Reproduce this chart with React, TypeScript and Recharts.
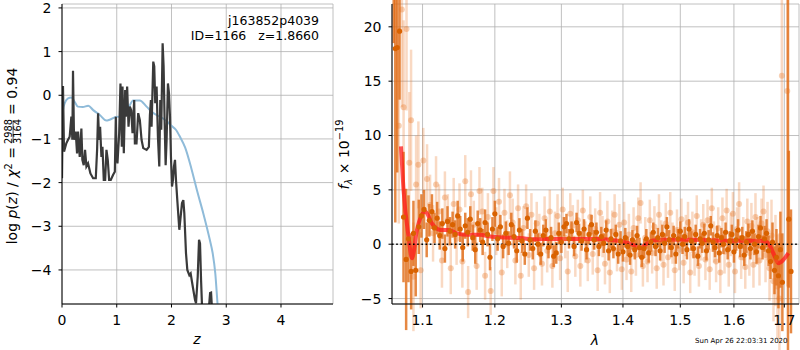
// Two panels: redshift probability p(z) on the left, grism spectrum with
// error bars and the best-fit model on the right.

import {
  LineChart,
  ComposedChart,
  Line,
  Scatter,
  ErrorBar,
  XAxis,
  YAxis,
  CartesianGrid,
  ReferenceLine,
} from 'recharts'

const FONT = '"DejaVu Sans", sans-serif'
const GRID = '#b0b0b0'

// ---- left panel: log p(z) ----
const pzZ = [
  0, 0.018, 0.037, 0.079, 0.11, 0.14, 0.171, 0.189, 0.201, 0.22,
  0.25, 0.275, 0.293, 0.324, 0.354, 0.372, 0.397, 0.421, 0.446, 0.476,
  0.519, 0.568, 0.617, 0.641, 0.659, 0.678, 0.696, 0.72, 0.739, 0.763,
  0.788, 0.812, 0.836, 0.861, 0.891, 0.934, 0.965, 0.983, 0.995, 1.013,
  1.044, 1.068, 1.093, 1.105, 1.129, 1.154, 1.166, 1.19, 1.215, 1.239,
  1.264, 1.288, 1.319, 1.331, 1.361, 1.392, 1.422, 1.453, 1.484, 1.545,
  1.587, 1.606, 1.624, 1.636, 1.667, 1.685, 1.703, 1.728, 1.752, 1.777,
  1.795, 1.813, 1.838, 1.856, 1.874, 1.893, 1.911, 1.935, 1.954, 1.972,
  1.99, 2.009, 2.027, 2.045, 2.064, 2.082, 2.106, 2.143, 2.161, 2.192,
  2.216, 2.234, 2.265, 2.289, 2.326, 2.35, 2.369, 2.399, 2.43, 2.448,
  2.479, 2.503, 2.521, 2.54, 2.558, 2.595, 2.65, 2.705, 2.723, 2.741,
  2.76,
]
const pzLog = [
  -1.9, 0.21, -1.29, -1.1, -1.02, -0.95, -0.49, -1.02, 0.56, -1.02,
  -0.83, -1.33, -0.83, -1.41, -0.76, -1.48, -1.6, -1.25, -1.63, -1.56,
  -1.79, -1.9, -1.9, -1.25, -0.41, -1.02, -0.72, -1.41, -1.18, -1.94,
  -1.94, -1.25, -1.48, -1.94, -1.94, -1.82, -1.75, -0.49, -1.41, -1.56,
  -0.87, 0.27, -1.18, 0.2, -1.33, 0.12, -0.49, 0.2, -0.72, -0.26,
  -0.34, -0.87, -0.11, -1.1, -1.1, -0.41, -0.57, -1.02, -1.21, -1.25,
  -1.18, -0.45, -0.11, -0.72, 0.77, 0.66, -0.18, 0.2, -0.95, -1.63,
  -0.11, -0.79, 1.19, 0.66, -0.57, -1.6, -1.02, 0.27, 0.05, -0.49,
  -1.41, -2.09, -1.94, -1.63, -1.48, -1.94, -2.4, -3.08, -2.86, -2.47,
  -2.4, -2.7, -3.62, -4.0, -4.12, -4.08, -4.23, -4.46, -4.69, -4.76,
  -4.15, -3.31, -3.39, -4.23, -4.84, -5.15, -5.4, -4.53, -4.52, -4.92,
  -5.3,
]

// smooth blue curve
const priorZ = [
  0, 0.02, 0.05, 0.11, 0.17, 0.23, 0.29, 0.38, 0.48, 0.57,
  0.69, 0.81, 0.87, 1.0, 1.1, 1.2, 1.3, 1.42, 1.545, 1.67,
  1.79, 1.9, 2.0, 2.08, 2.155, 2.25, 2.37, 2.47, 2.58, 2.7,
  2.75, 2.8, 2.84, 2.88,
]
const priorLog = [
  -0.5, -0.32, -0.18, -0.07, -0.05, -0.15, -0.26, -0.27, -0.24, -0.34,
  -0.45, -0.58, -0.56, -0.49, -0.5, -0.33, -0.12, -0.12, -0.26, -0.41,
  -0.49, -0.58, -0.7, -0.79, -0.95, -1.2, -1.71, -2.2, -2.7, -3.31,
  -3.6, -4.08, -4.76, -5.4,
]

const zTicks = [0, 1, 2, 3, 4]
const pzTicks = [-4, -3, -2, -1, 0, 1, 2]

// ---- right panel: spectrum ----
const darkLam = [
  1.0625, 1.0645, 1.067, 1.07, 1.0751, 1.0785, 1.0815, 1.085, 1.088, 1.091,
  1.095, 1.0985, 1.102, 1.1055, 1.109, 1.1125, 1.116, 1.1195, 1.123, 1.1265,
  1.13, 1.1335, 1.137, 1.1405, 1.144, 1.1475, 1.151, 1.1545, 1.158, 1.1615,
  1.165, 1.1685, 1.172, 1.1755, 1.179, 1.1825, 1.186, 1.1895, 1.193, 1.1965,
  1.2,
  1.204, 1.208, 1.212, 1.216, 1.22, 1.224, 1.228, 1.232, 1.236, 1.24,
  1.244, 1.248, 1.252, 1.256, 1.26, 1.264, 1.268, 1.272, 1.276, 1.28,
  1.284, 1.288, 1.292, 1.296, 1.3, 1.304, 1.308, 1.312, 1.316, 1.32,
  1.324, 1.328, 1.332, 1.336, 1.34, 1.344, 1.348, 1.352, 1.356, 1.36,
  1.364, 1.368, 1.372, 1.376, 1.38, 1.384, 1.388, 1.392, 1.396, 1.4,
  1.404, 1.408, 1.412, 1.416, 1.42, 1.424, 1.428, 1.432, 1.436, 1.44,
  1.444, 1.448, 1.452, 1.456, 1.46, 1.464, 1.468, 1.472, 1.476, 1.48,
  1.484, 1.488, 1.492, 1.496, 1.5, 1.504, 1.508, 1.512, 1.516, 1.52,
  1.524, 1.528, 1.532, 1.536, 1.54, 1.544, 1.548, 1.552, 1.556, 1.56,
  1.564, 1.568, 1.572, 1.576, 1.58, 1.584, 1.588, 1.592, 1.596, 1.6,
  1.604, 1.608, 1.612, 1.616, 1.62, 1.624, 1.628, 1.632, 1.636, 1.64,
  1.644, 1.648, 1.652, 1.656, 1.66, 1.664, 1.668, 1.672, 1.676, 1.68,
  1.684, 1.688, 1.692, 1.696,
  1.7075, 1.7092, 1.7137,
]
const darkFlux = [
  24.0, 18.0, 18.1, 19.6, 2.5, -1.4, 0.5, -2.5, 1.0, -2.4,
  1.6, 2.6, 3.2, 0.4, 2.2, 3.0, 1.5, 2.4, 0.8, 1.9,
  -0.4, 2.1, 1.2, 1.8, 0.9, 2.6, 1.4, -0.3, 1.7, 1.1,
  2.3, 0.6, -0.5, 1.9, 1.3, 0.2, 2.0, 0.9, -1.2, 1.4,
  2.8,
  0.5, 1.6, -0.2, 1.0, 0.1, 1.8, 0.7, -0.6, 1.3, 0.3,
  -0.9, 2.4, 0.4, -0.4, 1.2, 0.0, -0.9, 0.8, 1.3, -0.3,
  0.6, -1.1, -0.8, 1.0, 0.2, 1.6, 1.9, 0.5, 1.2, -0.2,
  2.0, 1.0, 0.3, 1.4, -0.5, 0.9, 1.8, 0.4, 1.1, -0.2,
  0.7, 0.1, 1.3, -0.6, 0.5, -0.4, 0.9, -0.9, 0.3, -0.7,
  0.6, -0.2, -1.0, 0.4, -0.5, 0.8, -0.3, -1.2, -0.4, 0.5,
  -0.8, 0.2, 1.1, -0.2, 0.6, -0.6, 0.9, 0.1, 1.6, 0.4,
  -0.3, 0.8, -0.9, 0.5, 1.2, 0.0, 0.7, -0.5, 1.4, 0.3,
  -0.4, 0.9, -1.1, 0.5, 0.1, 1.0, -0.6, 0.4, 1.7, 0.2,
  -0.3, 0.8, -0.8, 0.6, 0.0, 1.1, -0.5, 0.3, 0.9, -0.7,
  0.4, 1.3, -0.2, 0.6, -1.0, 0.2, 0.9, -0.4, 1.2, 0.0,
  -0.7, 0.7, 1.5, -0.3, 0.5, 1.0, -0.6, -1.6, 0.2, -2.4,
  -1.2, -2.9, -0.5, -3.5,
  -6.5, 2.3, -2.5,
]
const darkErr = [
  5.5, 16, 11.5, 6.3, 6.0, 6.5, 4.0, 3.5, 3.0, 2.4,
  2.5, 2.0, 1.8, 1.6, 1.5, 1.6, 1.4, 1.5, 1.3, 1.4,
  1.3, 1.4, 1.3, 1.2, 1.3, 1.4, 1.2, 1.3, 1.2, 1.3,
  1.2, 1.2, 1.3, 1.2, 1.1, 1.2, 1.2, 1.1, 1.2, 1.1,
  1.2,
  1.1, 1.1, 1.1, 1.1, 1.1, 1.1, 1.1, 1.1, 1.1, 1.1,
  1.0, 1.0, 1.0, 1.0, 1.0, 1.0, 1.0, 1.0, 1.0, 1.0,
  1.0, 1.0, 1.0, 1.0, 1.0, 0.9, 0.9, 0.9, 0.9, 0.9,
  0.9, 0.9, 0.9, 0.9, 0.9, 0.9, 0.9, 0.9, 0.9, 0.9,
  0.9, 0.9, 0.9, 0.9, 0.9, 0.9, 0.9, 0.9, 0.9, 0.9,
  0.9, 0.9, 0.9, 0.9, 0.9, 0.9, 0.9, 0.9, 0.9, 0.9,
  0.9, 0.9, 0.9, 0.9, 0.9, 0.9, 0.9, 0.9, 0.9, 0.9,
  0.9, 0.9, 0.9, 0.9, 0.9, 0.9, 0.9, 0.9, 0.9, 0.9,
  0.9, 0.9, 0.9, 0.9, 0.9, 0.9, 0.9, 0.9, 0.9, 0.9,
  0.9, 0.9, 0.9, 0.9, 0.9, 0.9, 0.9, 0.9, 0.9, 1.0,
  1.0, 1.0, 1.0, 1.0, 1.0, 1.0, 1.0, 1.0, 1.0, 1.0,
  1.1, 1.1, 1.1, 1.1, 1.2, 1.3, 1.4, 1.6, 1.8, 2.2,
  2.6, 3.0, 3.5, 4.5,
  30, 6.3, 5.7,
]

// faint points (second set, noisier)
const lightLam = [
  1.069, 1.073, 1.0752, 1.079, 1.0826, 1.0849, 1.088, 1.0915, 1.0945, 1.0975,
  1.101, 1.106,
  1.11, 1.114, 1.118, 1.122, 1.126, 1.13, 1.134, 1.138, 1.142, 1.146,
  1.15, 1.154, 1.158, 1.162, 1.166, 1.17, 1.174, 1.178, 1.182, 1.186,
  1.19, 1.194, 1.198, 1.202, 1.206, 1.21, 1.214, 1.218, 1.222, 1.226,
  1.23, 1.234, 1.238, 1.242, 1.246, 1.25, 1.254, 1.258, 1.262, 1.266,
  1.27, 1.274, 1.278, 1.282, 1.286, 1.29, 1.294, 1.298, 1.302, 1.306,
  1.31, 1.314, 1.318, 1.322, 1.326, 1.33, 1.334, 1.338, 1.342, 1.346,
  1.35, 1.354, 1.358, 1.362, 1.366, 1.37, 1.374, 1.378, 1.382, 1.386,
  1.39, 1.394, 1.398, 1.402, 1.406, 1.41, 1.414, 1.418, 1.422, 1.426,
  1.43, 1.434, 1.438, 1.442, 1.446, 1.45, 1.454, 1.458, 1.462, 1.466,
  1.47, 1.474, 1.478, 1.482, 1.486, 1.49, 1.494, 1.498, 1.502, 1.506,
  1.51, 1.514, 1.518, 1.522, 1.526, 1.53, 1.534, 1.538, 1.542, 1.546,
  1.55, 1.554, 1.558, 1.562, 1.566, 1.57, 1.574, 1.578, 1.582, 1.586,
  1.59, 1.594, 1.598, 1.602, 1.606, 1.61, 1.614, 1.618, 1.622, 1.626,
  1.63, 1.634, 1.638, 1.642, 1.646, 1.65, 1.654, 1.658, 1.662, 1.666,
  1.67, 1.674, 1.678, 1.682, 1.686, 1.69,
  1.695, 1.706,
]
const lightFlux = [
  10.9, 21.6, 12.6, 19.8, 7.5, 11.4, -3.0, 5.5, 7.3, -2.4,
  7.7, 6.0,
  3.6, 1.0, 5.5, 3.0, -1.5, 4.3, 2.2, -2.2, 3.7, 0.5,
  3.2, -1.6, 5.8, -4.4, 4.6, 1.8, -2.0, 4.9, 3.0, -2.9,
  2.5, -4.3, 4.9, 1.2, 3.9, -2.6, 2.9, 0.0, 4.5, 2.0,
  -1.5, 3.3, -2.9, 1.5, 3.5, -1.0, 2.7, -2.2, 1.9, 0.8,
  -1.8, 2.4, -0.6, 3.0, -2.0, 1.0, 2.6, -1.3, 3.2, 0.6,
  -2.5, 2.8, 1.7, -1.1, 2.2, -2.0, 3.1, 0.2, -1.5, 2.5,
  -0.9, 1.4, -2.4, 2.9, 0.7, -1.8, 2.1, -2.6, 1.2, 2.7,
  -0.6, 1.8, -2.3, 2.0, -1.4, 0.9, -2.5, 1.5, -1.0, 2.4,
  3.8, -2.0, 0.6, -1.6, 2.2, -0.8, 1.6, -2.2, 2.7, 0.3,
  -1.9, 1.9, -1.2, 2.9, 0.1, -2.4, 1.3, -0.5, 2.3, -1.7,
  0.8, 2.0, -2.6, 1.1, -1.0, 2.6, -2.0, 0.4, 1.8, -1.4,
  2.2, -2.3, 3.3, 0.2, -1.6, 1.5, -2.6, 2.4, -0.7, 3.1,
  -1.9, 0.9, 2.8, -2.5, 1.4, 3.7, -1.2, 0.5, -2.1, 2.1,
  -0.8, 1.7, -1.9, 2.5, 0.3, -1.5, 1.9, 3.0, -1.0, 1.2,
  -2.2, 0.8, -3.4, -1.5, -3.9, -5.0,
  15.5, 14.1,
]
const lightErr = [
  9.0, 9.0, 8.0, 7.5, 6.5, 6.5, 5.0, 4.5, 4.0, 3.5,
  3.0, 3.2,
  2.8, 2.6, 2.6, 2.5, 2.5, 2.4, 2.4, 2.4, 2.4, 2.4,
  2.4, 2.4, 2.4, 2.4, 2.2, 2.2, 2.2, 2.2, 2.2, 2.2,
  2.2, 2.2, 2.2, 2.2, 2.2, 2.2, 2.2, 2.2, 2.2, 2.2,
  2.2, 2.2, 2.2, 2.0, 2.0, 2.0, 2.0, 2.0, 2.0, 2.0,
  2.0, 2.0, 2.0, 2.0, 2.0, 2.0, 2.0, 2.0, 2.0, 1.9,
  1.9, 1.9, 1.9, 1.9, 1.9, 1.9, 1.9, 1.9, 1.9, 1.9,
  1.9, 1.9, 1.9, 1.9, 1.9, 1.9, 1.9, 1.9, 1.9, 1.9,
  1.9, 1.9, 1.9, 1.9, 1.9, 1.9, 1.9, 1.9, 1.9, 1.9,
  1.9, 1.9, 1.9, 1.9, 1.9, 1.9, 1.9, 1.9, 1.9, 1.9,
  1.9, 1.9, 1.9, 1.9, 1.9, 1.9, 1.9, 1.9, 1.9, 1.9,
  1.9, 1.9, 1.9, 1.9, 1.9, 1.9, 1.9, 1.9, 1.9, 1.9,
  1.9, 1.9, 1.9, 1.9, 1.9, 1.9, 1.9, 1.9, 2.0, 2.0,
  2.0, 2.0, 2.0, 2.0, 2.0, 2.0, 2.0, 2.0, 2.0, 2.1,
  2.1, 2.1, 2.1, 2.2, 2.2, 2.3, 2.3, 2.4, 2.5, 2.7,
  3.0, 3.3, 3.7, 4.2, 4.8, 6.0,
  16, 18,
]

// best-fit model
const modelLam = [
  1.0718, 1.0751, 1.0816, 1.0861, 1.0926, 1.1036, 1.1125, 1.1237, 1.1349, 1.1464,
  1.1603, 1.179, 1.1933, 1.2175, 1.242, 1.2521, 1.293, 1.362, 1.3785, 1.4007,
  1.4177, 1.4292, 1.4378, 1.4494, 1.4697, 1.5177, 1.5797, 1.6577, 1.6677, 1.6777,
  1.6878, 1.698, 1.7083,
]
const modelFlux = [
  9.0, 5.0, 0.7, -1.3, 1.3, 3.0, 1.9, 1.3, 1.3, 1.0,
  0.86, 0.86, 0.7, 0.61, 0.55, 0.46, 0.49, 0.49, 0.4, 0.24,
  -0.06, -0.37, -0.06, 0.33, 0.4, 0.4, 0.33, 0.3, 0.09, -0.83,
  -1.75, -1.44, -0.83,
]

const lamTicks = [1.1, 1.2, 1.3, 1.4, 1.5, 1.6, 1.7]
const fluxTicks = [-5, 0, 5, 10, 15, 20]

// Recharts wants arrays of objects
const pzData = pzZ.map((z, i) => ({ z, v: pzLog[i] }))
const priorData = priorZ.map((z, i) => ({ z, v: priorLog[i] }))
const darkData = darkLam.map((lam, i) => ({ lam, f: darkFlux[i], e: darkErr[i] }))
const lightData = lightLam.map((lam, i) => ({ lam, f: lightFlux[i], e: lightErr[i] }))
const modelData = modelLam.map((lam, i) => ({ lam, f: modelFlux[i] }))

const tickStyle = { fontSize: 14, fill: '#000', fontFamily: FONT }
const black = { stroke: '#000' }
const minus = (v: number) => String(v).replace('-', '\u2212')

const LightDot = (p: any) => <circle cx={p.cx} cy={p.cy} r={3} fill="rgba(232,120,40,0.35)" />
const DarkDot = (p: any) => <circle cx={p.cx} cy={p.cy} r={2.6} fill="#d96200" />

function PzPanel() {
  return (
    <LineChart width={340} height={350} margin={{ top: 4, right: 7, bottom: 16, left: 0 }}>
      <CartesianGrid stroke={GRID} strokeWidth={0.8} />
      <XAxis
        dataKey="z"
        type="number"
        domain={[0, 4.95]}
        ticks={zTicks}
        interval={0}
        allowDataOverflow
        height={30}
        tick={tickStyle}
        tickSize={3.5}
        tickMargin={8}
        axisLine={black}
        tickLine={black}
      />
      <YAxis
        type="number"
        domain={[-4.78, 2.09]}
        ticks={pzTicks}
        interval={0}
        allowDataOverflow
        width={62}
        tick={tickStyle}
        tickSize={3.5}
        tickMargin={7}
        tickFormatter={minus}
        axisLine={black}
        tickLine={black}
      />
      <XAxis xAxisId="top" orientation="top" type="number" domain={[0, 1]} height={0} tick={false} tickLine={false} axisLine={black} />
      <YAxis yAxisId="right" orientation="right" type="number" domain={[0, 1]} width={0} tick={false} tickLine={false} axisLine={black} />
      <Line data={priorData} dataKey="v" type="monotone" stroke="#8fbbd9" strokeWidth={2} dot={false} isAnimationActive={false} />
      <Line data={pzData} dataKey="v" type="linear" stroke="#3a3a3a" strokeWidth={2.2} dot={false} isAnimationActive={false} />
    </LineChart>
  )
}

function SpecPanel() {
  return (
    <ComposedChart width={470} height={350} margin={{ top: 4, right: 1, bottom: 16, left: 0 }}>
      <CartesianGrid stroke={GRID} strokeWidth={0.8} />
      <XAxis
        dataKey="lam"
        type="number"
        scale="log"
        domain={[1.0603, 1.7303]}
        ticks={lamTicks}
        interval={0}
        allowDataOverflow
        height={30}
        tick={tickStyle}
        tickSize={3.5}
        tickMargin={8}
        tickFormatter={(v: number) => v.toFixed(1)}
        axisLine={black}
        tickLine={black}
      />
      <YAxis
        dataKey="f"
        type="number"
        domain={[-5.5, 22.1]}
        ticks={fluxTicks}
        interval={0}
        allowDataOverflow
        width={62}
        tick={tickStyle}
        tickSize={3.5}
        tickMargin={7}
        tickFormatter={minus}
        axisLine={black}
        tickLine={black}
      />
      <XAxis xAxisId="top" orientation="top" type="number" domain={[0, 1]} height={0} tick={false} tickLine={false} axisLine={black} />
      <YAxis yAxisId="right" orientation="right" type="number" domain={[0, 1]} width={0} tick={false} tickLine={false} axisLine={black} />
      <Scatter data={lightData} shape={LightDot} isAnimationActive={false}>
        <ErrorBar dataKey="e" direction="y" width={0} stroke="rgba(232,120,40,0.28)" strokeWidth={2.5} />
      </Scatter>
      <Scatter data={darkData} shape={DarkDot} isAnimationActive={false}>
        <ErrorBar dataKey="e" direction="y" width={0} stroke="rgba(224,106,20,0.8)" strokeWidth={2.5} />
      </Scatter>
      <Line data={modelData} dataKey="f" type="monotone" stroke="rgba(255,25,25,0.75)" strokeWidth={4} dot={false} isAnimationActive={false} />
      <ReferenceLine y={0} stroke="#000" strokeWidth={1.6} strokeDasharray="1.6 2.6" />
    </ComposedChart>
  )
}

// axis titles and notes, drawn on top of both charts
function Labels() {
  return (
    <svg width={800} height={350} style={{ position: 'absolute', left: 0, top: 0, pointerEvents: 'none' }} fontFamily={FONT}>
      <g transform="translate(16.7,155) rotate(-90)" fontSize={14}>
        <text x={8} y={0} textAnchor="end">
          log <tspan fontStyle="italic">p</tspan>(<tspan fontStyle="italic">z</tspan>) / <tspan fontStyle="italic">χ</tspan>
          <tspan dy={-5} fontSize={9.8}>2</tspan>
          <tspan dy={5}>{'\u00a0='}</tspan>
        </text>
        <text x={23.5} y={-5} textAnchor="middle" fontSize={9.8}>2988</text>
        <line x1={12.5} x2={34.5} y1={-3.6} y2={-3.6} stroke="#000" strokeWidth={0.7} />
        <text x={23.5} y={4.5} textAnchor="middle" fontSize={9.8}>3164</text>
        <text x={40} y={0}>= 0.94</text>
      </g>
      <g transform="translate(349,154.5) rotate(-90)" fontSize={14}>
        <text x={0} y={0} textAnchor="middle">
          <tspan fontStyle="italic">f</tspan>
          <tspan dy={3} fontSize={9.8} fontStyle="italic">λ</tspan>
          <tspan dy={-3}>{'\u00a0×\u00a010'}</tspan>
          <tspan dy={-6} fontSize={9.8}>−19</tspan>
        </text>
      </g>
      <text x={319} y={24.5} textAnchor="end" fontSize={12.5}>j163852p4039</text>
      <text x={319} y={40} textAnchor="end" fontSize={12.5}>{'ID=1166\u00a0\u00a0\u00a0z=1.8660'}</text>
      <text x={197} y={344} textAnchor="middle" fontSize={14} fontStyle="italic">z</text>
      <text x={595} y={344.5} textAnchor="middle" fontSize={14} fontStyle="italic">λ</text>
      <text x={787.5} y={342.5} textAnchor="end" fontSize={7}>Sun Apr 26 22:03:31 2020</text>
    </svg>
  )
}

export default function App() {
  return (
    <div style={{ position: 'absolute', left: 0, top: 0, width: 800, height: 350, background: '#fff', fontFamily: FONT }}>
      <div style={{ position: 'absolute', left: 0, top: 0 }}>
        <PzPanel />
      </div>
      <div style={{ position: 'absolute', left: 330, top: 0 }}>
        <SpecPanel />
      </div>
      <Labels />
    </div>
  )
}
